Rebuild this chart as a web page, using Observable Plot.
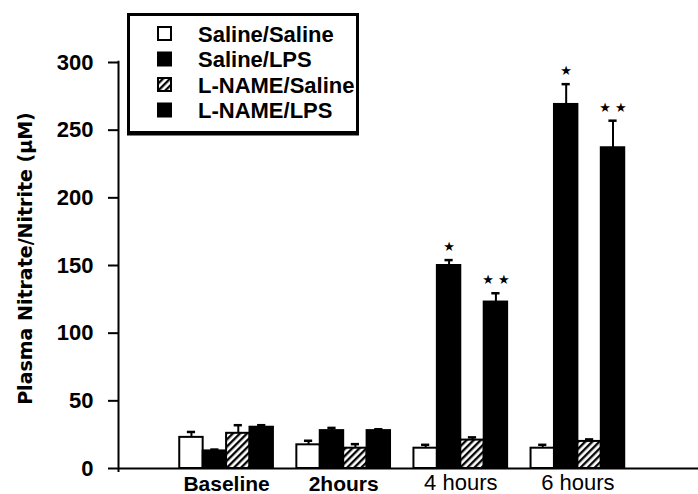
<!DOCTYPE html>
<html>
<head>
<meta charset="utf-8">
<script src="https://cdn.jsdelivr.net/npm/d3@7"></script>
<script src="https://cdn.jsdelivr.net/npm/@observablehq/plot@0.6"></script>
<style>
  body { margin: 0; background: #fff; }
  #chart { position: relative; width: 698px; height: 494px; font-family: "Liberation Sans", Arial, sans-serif; }
  #chart svg { display: block; }
  #key { position: absolute; left: 124px; top: 10px; }
</style>
</head>
<body>
<div id="chart"></div>
<script>
// Time points and treatment groups
const groups = ["Baseline", "2hours", "4 hours", "6 hours"];
const series = ["Saline/Saline", "Saline/LPS", "L-NAME/Saline", "L-NAME/LPS"];

// Mean plasma nitrate/nitrite (µM) per treatment, one value per time point
const salineSaline = [23, 17.5, 15, 15];
const salineLPS = [13, 28, 150, 269];
const lnameSaline = [26, 15, 21, 20];
const lnameLPS = [30.5, 28, 123, 237];

// Standard error of each mean
const salineSalineSem = [4, 3, 2.5, 2.5];
const salineLPSSem = [1, 2, 4, 15];
const lnameSalineSem = [6, 3, 2, 1.5];
const lnameLPSSem = [1.5, 1, 6.5, 20];

// Significance markers
const salineSalineSig = ["", "", "", ""];
const salineLPSSig = ["", "", "*", "*"];
const lnameSalineSig = ["", "", "", ""];
const lnameLPSSig = ["", "", "**", "**"];

const yTicks = [0, 50, 100, 150, 200, 250, 300];
const yLabel = "Plasma Nitrate/Nitrite (\u03BCM)";

const means = [salineSaline, salineLPS, lnameSaline, lnameLPS];
const sems = [salineSalineSem, salineLPSSem, lnameSalineSem, lnameLPSSem];
const sigs = [salineSalineSig, salineLPSSig, lnameSalineSig, lnameLPSSig];

const BAR = 0.2; // bar width in group units
const rows = groups.flatMap((g, gi) => series.map((s, si) => ({
  group: g, gi, series: s, si,
  value: means[si][gi], sem: sems[si][gi], sig: sigs[si][gi]
})));
const center = d => d.gi + (d.si - 1.5) * BAR;
const errTop = d => d.value + d.sem;
const starText = s => s.split("").map(() => "\u2605").join(" ");

const fills = ["white", "black", "url(#hatch)", "black"];
const font = "Liberation Sans, Arial, sans-serif";

const chart = Plot.plot({
  width: 698,
  height: 494,
  marginLeft: 118,
  marginRight: 0,
  marginTop: 62,
  marginBottom: 26,
  x: { domain: [-0.923, 4.03], axis: null },
  y: { domain: [0, 300], axis: null },
  color: { domain: series, range: fills },
  style: { fontFamily: font, background: "white", overflow: "visible" },
  marks: [
    Plot.rectY(rows, {
      x1: d => center(d) - BAR / 2, x2: d => center(d) + BAR / 2,
      y1: 0, y2: "value",
      fill: "series", stroke: "black", strokeWidth: 2
    }),
    // error bars (upper half) with caps
    Plot.ruleX(rows, { x: center, y1: "value", y2: errTop, stroke: "black", strokeWidth: 2 }),
    Plot.ruleY(rows, { y: errTop, x1: d => center(d) - 0.035, x2: d => center(d) + 0.035, stroke: "black", strokeWidth: 2.5 }),
    Plot.text(rows.filter(d => d.sig), {
      x: center, y: errTop, dy: -13, text: d => starText(d.sig),
      fontSize: 13, fontFamily: "DejaVu Sans", fill: "black"
    }),
    // axes
    Plot.ruleY([0], { stroke: "black", strokeWidth: 2 }),
    Plot.ruleX([-0.923], { y1: -3, y2: 301, stroke: "black", strokeWidth: 2 }),
    Plot.axisY(yTicks, {
      tickSize: 10, tickPadding: 15, strokeWidth: 2,
      fontSize: 22, fontWeight: "bold", fill: "black", label: null
    }),
    Plot.text([yLabel], {
      frameAnchor: "left", textAnchor: "middle", rotate: -90, dx: -93, dy: -7,
      fontSize: 19, fontWeight: "bold", fontFamily: "DejaVu Sans", fill: "black"
    }),
    Plot.text(groups, {
      x: (d, i) => i, y: 0, dy: 16, filter: (d, i) => i < 2,
      fontSize: 21, fontWeight: "bold", fill: "black"
    }),
    Plot.text(groups, {
      x: (d, i) => i, y: 0, dy: 14, filter: (d, i) => i >= 2,
      fontSize: 22, fontWeight: "normal", fill: "black"
    })
  ]
});

function addHatch(svg, id) {
  const p = d3.select(svg).insert("defs", ":first-child")
    .append("pattern")
    .attr("id", id)
    .attr("patternUnits", "userSpaceOnUse")
    .attr("width", 5).attr("height", 5)
    .attr("patternTransform", "rotate(45)");
  p.append("rect").attr("width", 5).attr("height", 5).attr("fill", "white");
  p.append("line").attr("x1", 1.2).attr("x2", 1.2).attr("y1", 0).attr("y2", 5)
    .attr("stroke", "black").attr("stroke-width", 2.3);
}
addHatch(chart, "hatch");

const host = document.getElementById("chart");
host.appendChild(chart);

// Key box drawn over the upper-left part of the plot
const key = d3.create("svg").attr("id", "key").attr("width", 240).attr("height", 130);
addHatch(key.node(), "hatch-key");
key.append("rect").attr("x", 4.5).attr("y", 4.5).attr("width", 229).attr("height", 118)
  .attr("fill", "white").attr("stroke", "black").attr("stroke-width", 3);
key.append("line").attr("x1", 3).attr("x2", 235).attr("y1", 123.5).attr("y2", 123.5)
  .attr("stroke", "black").attr("stroke-width", 4);
const keyFills = ["white", "black", "url(#hatch-key)", "black"];
const rowY = i => 24 + i * 25.5;
series.forEach((s, i) => {
  key.append("rect").attr("x", 34).attr("y", rowY(i) - 7).attr("width", 13).attr("height", 13)
    .attr("fill", keyFills[i]).attr("stroke", "black").attr("stroke-width", 2);
  key.append("text").attr("x", 74).attr("y", rowY(i)).attr("dy", "0.36em")
    .attr("font-family", font).attr("font-size", 22).attr("font-weight", "bold")
    .text(s);
});
host.appendChild(key.node());
</script>
</body>
</html>
